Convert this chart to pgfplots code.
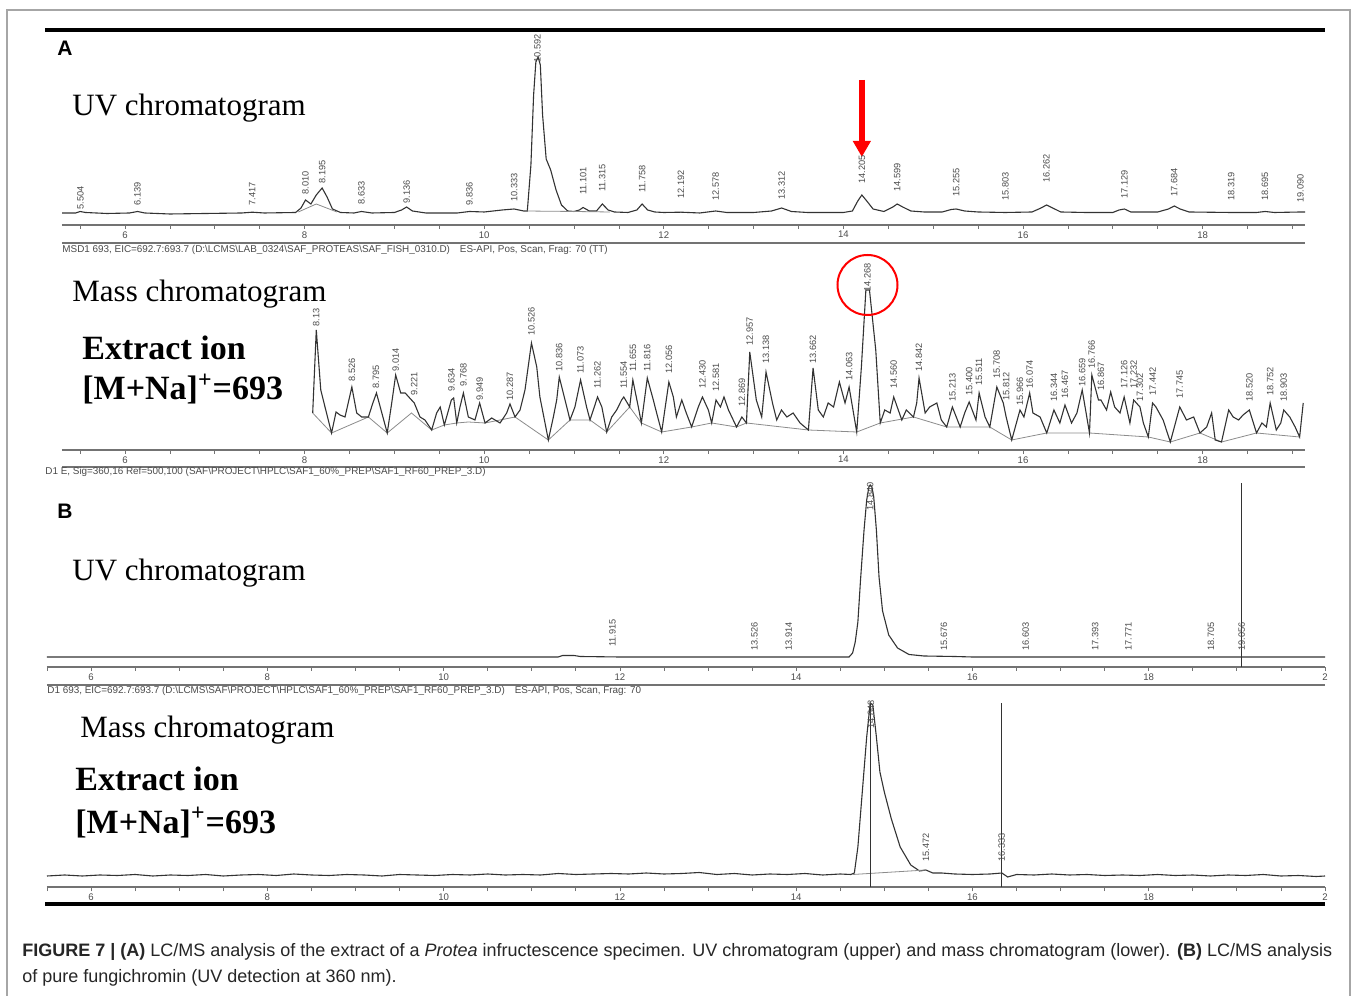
\documentclass[border=0pt]{standalone}
\usepackage{fontspec}
\setmainfont{Liberation Serif}
\newfontfamily\arial{Liberation Sans}
\usepackage{pgfplots}
\pgfplotsset{compat=1.18}
\usetikzlibrary{arrows.meta}
\definecolor{trace}{gray}{0.2}
\definecolor{lblgray}{gray}{0.3}
\definecolor{axgray}{gray}{0.45}
\definecolor{basegray}{gray}{0.55}
\newcommand{\lbl}{\arial\fontsize{4.6}{5}\selectfont}
\newcommand{\tickf}{\arial\fontsize{4.8}{5}\selectfont}
\newcommand{\hdr}{\arial\fontsize{4.95}{5.5}\selectfont}
\newcommand{\capf}{\arial\fontsize{9.0}{10}\selectfont}
\pgfplotsset{
  chrom/.style={
    scale only axis, clip=false,
    axis x line*=bottom, axis y line=none,
    ymin=0, ytick=\empty,
    x axis line style={axgray, line width=0.8pt},
    tick align=outside,
    major tick length=2pt, minor tick length=2pt,
    every tick/.style={axgray, line width=0.4pt},
    xticklabel style={font=\tickf, text=lblgray, inner sep=1pt},
    /pgf/number format/assume math mode=true,
  },
  pklabel/.style={draw=none, mark=none, nodes near coords, point meta=explicit symbolic,
    every node near coord/.append style={rotate=90, anchor=west, font=\lbl, text=lblgray, inner sep=0.5pt}},
  trc/.style={trace, line width=0.55pt, mark=none},
  bas/.style={basegray, line width=0.4pt, mark=none},
}
\begin{document}
\begin{tikzpicture}
\useasboundingbox (0,0) rectangle (679pt,497.5pt);
\fill[white] (0,0) rectangle (679pt,497.5pt);

% ---------------- A: UV chromatogram ----------------
\begin{axis}[chrom, at={(31pt,385pt)}, anchor=south west,
  width=621.5pt, height=95pt, xmin=5.2984, xmax=19.14, ymax=190,
  xtick={6,8,...,18}, minor xtick={5.5,6,...,19}]
\addplot[trc] table[row sep=\\]{
t h\\
5.30 12\\ 5.45 12\\ 5.50 13.5\\ 5.56 12.5\\ 5.80 11.5\\ 6.05 12\\ 6.14 13.5\\ 6.22 12\\
6.50 11\\ 6.90 11.5\\ 7.30 12\\ 7.417 12.8\\ 7.55 12\\ 7.90 12.5\\ 7.96 17\\ 8.01 25\\
8.07 21\\ 8.13 30\\ 8.195 37\\ 8.25 28\\ 8.31 16\\ 8.40 12.5\\ 8.55 12\\ 8.633 13.5\\
8.75 12\\ 9.00 12.5\\ 9.08 15\\ 9.136 18\\ 9.20 14\\ 9.35 12\\ 9.70 12\\ 9.836 13.5\\
10.00 13\\ 10.20 15\\ 10.333 16\\ 10.44 14\\ 10.48 14\\ 10.52 60\\ 10.55 130\\ 10.575 163\\
10.60 168\\ 10.625 160\\ 10.65 110\\ 10.69 66\\ 10.74 55\\ 10.80 35\\ 10.86 20\\ 10.93 14\\
11.00 13.5\\ 11.06 15\\ 11.101 17.5\\ 11.17 14\\ 11.25 14\\ 11.315 21\\ 11.38 15\\ 11.45 13\\
11.60 12.5\\ 11.70 15\\ 11.758 21\\ 11.82 15\\ 11.90 13\\ 12.00 12.5\\ 12.192 12.8\\ 12.40 12\\
12.578 14\\ 12.70 12.5\\ 13.00 12.5\\ 13.20 14\\ 13.312 17\\ 13.42 13.5\\ 13.60 12.5\\ 14.00 12.5\\
14.10 14\\ 14.16 24\\ 14.205 30\\ 14.26 24\\ 14.33 16\\ 14.45 13.5\\ 14.55 18\\ 14.599 21\\
14.66 18\\ 14.75 14\\ 14.90 13\\ 15.10 13\\ 15.20 15.5\\ 15.255 16\\ 15.35 14\\ 15.50 13\\
15.803 12.5\\ 16.10 13\\ 16.20 17\\ 16.262 20\\ 16.33 17\\ 16.42 13\\ 16.70 12.5\\ 17.00 12.5\\
17.07 15\\ 17.129 16\\ 17.20 13\\ 17.50 13\\ 17.62 16\\ 17.684 19\\ 17.75 16\\ 17.85 13\\
18.319 12.5\\ 18.60 12.5\\ 18.695 13.5\\ 18.80 12.5\\ 19.09 13\\ 19.14 13\\
};
\addplot[bas] table[row sep=\\]{t h\\ 7.93 13\\ 8.13 21\\ 8.36 13\\};
\addplot[bas] table[row sep=\\]{t h\\ 10.45 14\\ 11.00 13.5\\ 11.40 13\\};
\addplot[pklabel] table[row sep=\\, meta=lab]{
t h lab\\
5.504 14 5.504\\ 6.139 18 6.139\\ 7.417 18 7.417\\ 8.010 29 8.010\\ 8.195 40 8.195\\
8.633 19 8.633\\ 9.136 20 9.136\\ 9.836 18 9.836\\ 10.333 22 10.333\\ 10.592 161 10.592\\
11.101 29 11.101\\ 11.315 32 11.315\\ 11.758 31 11.758\\ 12.192 25 12.192\\ 12.578 23 12.578\\
13.312 24 13.312\\ 14.205 40 14.205\\ 14.599 32 14.599\\ 15.255 27 15.255\\ 15.803 23 15.803\\
16.262 41 16.262\\ 17.129 25 17.129\\ 17.684 27 17.684\\ 18.319 23 18.319\\ 18.695 23 18.695\\
19.090 21 19.090\\
};
\draw[red, line width=3pt, -{Triangle[width=8.5pt,length=8pt]}] (axis cs:14.205,145) -- (axis cs:14.205,68);
\end{axis}

% ---------------- A: Mass chromatogram ----------------
\begin{axis}[chrom, at={(31pt,272.5pt)}, anchor=south west,
  width=621.5pt, height=97.5pt, xmin=5.2984, xmax=19.14, ymax=195,
  xtick={6,8,...,18}, minor xtick={5.5,6,...,19}]
\addplot[bas] table[row sep=\\]{
t h\\
8.09 37\\ 8.30 17\\ 8.71 33\\ 8.92 17\\ 9.19 37\\ 9.415 20\\ 9.556 25\\ 9.694 27\\ 9.823 28\\
10.009 27\\ 10.343 33\\ 10.714 10\\ 10.955 30\\ 11.178 30\\ 11.364 18\\ 11.62 43\\ 11.75 27\\
11.976 18\\ 12.31 23\\ 12.533 27\\ 12.81 23\\ 12.92 27\\ 13.61 20\\ 14.148 18\\ 14.41 27\\
14.78 33\\ 15.15 23\\ 15.63 23\\ 15.874 10\\ 16.264 17\\ 16.74 17\\ 17.395 13\\ 17.64 8\\
17.97 17\\ 18.21 8\\ 18.60 17\\ 19.08 13\\
};
\addplot[trc] table[row sep=\\]{
t h\\
8.09 37\\ 8.13 120\\ 8.18 60\\ 8.227 43\\ 8.30 17\\ 8.35 38\\ 8.394 35\\ 8.45 33\\ 8.526 63\\
8.58 37\\ 8.636 33\\ 8.71 33\\ 8.76 47\\ 8.80 57\\ 8.86 37\\ 8.92 17\\ 8.97 47\\ 9.014 75\\
9.07 57\\ 9.12 57\\ 9.16 53\\ 9.221 47\\ 9.285 33\\ 9.34 30\\ 9.415 20\\ 9.47 37\\ 9.51 43\\
9.556 25\\ 9.634 50\\ 9.66 52\\ 9.694 27\\ 9.73 43\\ 9.768 57\\ 9.823 33\\ 9.897 30\\ 9.949 47\\
10.009 27\\ 10.083 32\\ 10.176 27\\ 10.25 37\\ 10.287 46\\ 10.343 33\\ 10.399 40\\ 10.454 60\\
10.526 107\\ 10.585 83\\ 10.62 53\\ 10.677 27\\ 10.714 10\\ 10.77 33\\ 10.807 50\\ 10.836 73\\
10.90 50\\ 10.955 30\\ 11.01 43\\ 11.073 70\\ 11.14 43\\ 11.178 30\\ 11.262 53\\ 11.31 43\\
11.364 18\\ 11.42 33\\ 11.475 40\\ 11.53 50\\ 11.554 53\\ 11.62 43\\ 11.655 70\\ 11.716 43\\
11.75 27\\ 11.816 72\\ 11.883 50\\ 11.92 37\\ 11.976 18\\ 12.056 68\\ 12.106 53\\ 12.14 33\\
12.20 50\\ 12.25 37\\ 12.31 23\\ 12.384 43\\ 12.430 53\\ 12.496 40\\ 12.533 27\\ 12.581 50\\
12.63 43\\ 12.67 53\\ 12.72 40\\ 12.81 23\\ 12.869 33\\ 12.92 27\\ 12.957 98\\ 13.03 50\\
13.09 33\\ 13.138 78\\ 13.21 47\\ 13.257 30\\ 13.31 40\\ 13.37 33\\ 13.44 37\\ 13.517 27\\
13.61 20\\ 13.662 82\\ 13.72 40\\ 13.776 33\\ 13.83 47\\ 13.89 43\\ 13.955 68\\ 14.018 47\\
14.063 63\\ 14.148 18\\ 14.20 83\\ 14.25 160\\ 14.29 160\\ 14.36 100\\ 14.41 27\\ 14.46 40\\
14.52 37\\ 14.560 53\\ 14.65 30\\ 14.70 40\\ 14.78 33\\ 14.816 47\\ 14.842 72\\ 14.91 37\\
14.96 43\\ 15.04 47\\ 15.09 30\\ 15.15 23\\ 15.213 43\\ 15.30 23\\ 15.35 37\\ 15.400 48\\
15.476 30\\ 15.511 57\\ 15.577 33\\ 15.63 23\\ 15.708 63\\ 15.78 47\\ 15.812 33\\ 15.874 10\\
15.966 40\\ 16.01 33\\ 16.074 57\\ 16.11 37\\ 16.19 33\\ 16.264 17\\ 16.344 40\\ 16.41 27\\
16.467 45\\ 16.54 27\\ 16.60 37\\ 16.659 60\\ 16.74 17\\ 16.766 75\\ 16.84 50\\ 16.867 50\\
16.93 40\\ 16.976 58\\ 17.02 43\\ 17.08 37\\ 17.126 53\\ 17.19 27\\ 17.232 50\\ 17.302 43\\
17.34 27\\ 17.395 13\\ 17.442 47\\ 17.48 43\\ 17.56 30\\ 17.64 8\\ 17.745 43\\ 17.82 30\\
17.90 33\\ 17.97 17\\ 18.045 23\\ 18.10 37\\ 18.14 10\\ 18.21 8\\ 18.29 40\\ 18.34 33\\
18.40 30\\ 18.45 35\\ 18.520 40\\ 18.60 17\\ 18.66 27\\ 18.71 23\\ 18.752 47\\ 18.82 20\\
18.87 27\\ 18.903 40\\ 18.97 33\\ 19.03 23\\ 19.08 13\\ 19.12 47\\
};
\addplot[pklabel] table[row sep=\\, meta=lab]{
t h lab\\
8.13 122 8.13\\ 8.526 67 8.526\\ 8.795 60 8.795\\ 9.014 77 9.014\\ 9.221 53 9.221\\
9.634 57 9.634\\ 9.768 62 9.768\\ 9.949 48 9.949\\ 10.287 48 10.287\\ 10.526 113 10.526\\
10.836 77 10.836\\ 11.073 75 11.073\\ 11.262 60 11.262\\ 11.554 60 11.554\\ 11.655 77 11.655\\
11.816 77 11.816\\ 12.056 75 12.056\\ 12.430 60 12.430\\ 12.581 57 12.581\\ 12.869 42 12.869\\
12.957 103 12.957\\ 13.138 85 13.138\\ 13.662 85 13.662\\ 14.063 68 14.063\\ 14.268 157 14.268\\
14.560 60 14.560\\ 14.842 77 14.842\\ 15.213 47 15.213\\ 15.400 53 15.400\\ 15.511 63 15.511\\
15.708 70 15.708\\ 15.812 48 15.812\\ 15.966 43 15.966\\ 16.074 60 16.074\\ 16.344 47 16.344\\
16.467 50 16.467\\ 16.659 62 16.659\\ 16.766 80 16.766\\ 16.867 58 16.867\\ 17.126 60 17.126\\
17.232 60 17.232\\ 17.302 47 17.302\\ 17.442 53 17.442\\ 17.745 50 17.745\\ 18.520 47 18.520\\
18.752 53 18.752\\ 18.903 47 18.903\\
};
\draw[red, line width=1pt] (axis cs:14.268,165) circle[radius=15pt];
\end{axis}

% ---------------- B: UV chromatogram ----------------
\begin{axis}[chrom, at={(23.5pt,164pt)}, anchor=south west,
  width=639pt, height=93.5pt, xmin=5.5, xmax=20, ymax=187,
  xtick={6,8,...,20}, xticklabels={6,8,10,12,14,16,18,2}, minor xtick={5.5,6,...,20}]
\addplot[trc] table[row sep=\\]{
t h\\
5.50 10\\ 11.30 10\\ 11.35 11.5\\ 11.48 11.5\\ 11.55 10.5\\ 12.00 10\\ 13.526 10\\ 14.60 10\\
14.64 14\\ 14.67 25\\ 14.70 45\\ 14.73 87\\ 14.77 137\\ 14.80 167\\ 14.825 180\\ 14.84 182\\
14.86 180\\ 14.88 170\\ 14.91 137\\ 14.94 90\\ 14.98 56\\ 15.05 32\\ 15.15 19\\ 15.28 12.5\\
15.45 11\\ 15.80 10.5\\ 16.00 10\\ 20.00 10\\
};
\addplot[trc] coordinates {(19.056,0) (19.056,184)};
\addplot[pklabel] table[row sep=\\, meta=lab]{
t h lab\\
11.915 19 11.915\\ 13.526 15 13.526\\ 13.914 15 13.914\\ 14.840 155 14.840\\ 15.676 15 15.676\\
16.603 15 16.603\\ 17.393 15 17.393\\ 17.771 15 17.771\\ 18.705 15 18.705\\ 19.056 15 19.056\\
};
\end{axis}

% ---------------- B: Mass chromatogram ----------------
\begin{axis}[chrom, at={(23.5pt,54pt)}, anchor=south west,
  width=639pt, height=93.5pt, xmin=5.5, xmax=20, ymax=187,
  xtick={6,8,...,20}, xticklabels={6,8,10,12,14,16,18,2}, minor xtick={5.5,6,...,20}]
\addplot[trc] table[row sep=\\]{
t h\\
5.5 11\\ 5.7 12\\ 5.9 11\\ 6.1 12\\ 6.3 11.5\\ 6.5 12.5\\ 6.7 11\\ 6.9 12\\ 7.1 11.5\\ 7.3 12.5\\
7.5 11\\ 7.7 12\\ 7.9 12.5\\ 8.1 11.5\\ 8.3 13\\ 8.5 12\\ 8.7 11.5\\ 8.9 12.5\\ 9.1 12\\ 9.3 11\\
9.5 12.5\\ 9.7 12\\ 9.9 11.5\\ 10.1 12.5\\ 10.3 12\\ 10.5 13\\ 10.7 12\\ 10.9 12.5\\ 11.1 12\\
11.3 13.5\\ 11.5 12.5\\ 11.7 13\\ 11.9 13.5\\ 12.1 13\\ 12.3 14\\ 12.5 13\\ 12.7 13.5\\ 12.9 14.5\\
13.1 12.5\\ 13.3 13.5\\ 13.5 12\\ 13.7 13\\ 13.9 12.5\\ 14.1 13.5\\ 14.3 12\\ 14.5 13\\ 14.62 12.5\\
14.66 14\\ 14.70 40\\ 14.75 95\\ 14.80 150\\ 14.84 184\\ 14.87 182\\ 14.91 150\\ 14.95 115\\
15.00 95\\ 15.08 68\\ 15.18 40\\ 15.30 22\\ 15.40 16\\ 15.472 17\\ 15.55 14\\ 15.65 14\\ 15.8 13\\
16.0 12.5\\ 16.2 13\\ 16.333 14\\ 16.4 10\\ 16.5 12.5\\ 16.7 12\\ 16.9 13\\ 17.1 12\\ 17.3 12.5\\
17.5 11.5\\ 17.7 12\\ 17.9 11.5\\ 18.1 12.5\\ 18.3 11.5\\ 18.5 12\\ 18.7 11\\ 18.9 12\\ 19.1 11.5\\
19.3 12.5\\ 19.5 11\\ 19.7 11.5\\ 19.9 10.5\\ 20.0 11\\
};
\addplot[bas] table[row sep=\\]{t h\\ 14.64 12.5\\ 15.472 17\\};
\addplot[trc] coordinates {(14.848,0) (14.848,184)};
\addplot[trc] coordinates {(16.333,0) (16.333,184)};
\addplot[pklabel] table[row sep=\\, meta=lab]{
t h lab\\
14.848 157 14.848\\ 15.472 24 15.472\\ 16.333 24 16.333\\
};
\end{axis}

% ---------------- decorations and texts (pixel coordinates) ----------------
\begin{scope}[x=0.5pt,y=-0.5pt,shift={(0,-995)}]
\draw[gray!70, line width=0.6pt] (7,1000) -- (7,10) -- (1350,10) -- (1350,1000);
\draw[black, line width=2pt] (45,30) -- (1325,30);
\draw[black, line width=2pt] (45,904) -- (1325,904);
\draw[axgray, line width=0.7pt] (62,243) -- (1305,243);
\draw[axgray, line width=0.7pt] (62,467) -- (1305,467);
\draw[axgray, line width=0.7pt] (47,685) -- (1325,685);

\node[anchor=base west, inner sep=0pt, font=\arial\bfseries\fontsize{10.5}{12}\selectfont] at (57,56) {A};
\node[anchor=base west, inner sep=0pt, font=\arial\bfseries\fontsize{10.5}{12}\selectfont] at (57,519) {B};

\node[anchor=base west, inner sep=0pt, font=\fontsize{15.5}{18}\selectfont] at (72,116) {UV chromatogram};
\node[anchor=base west, inner sep=0pt, font=\fontsize{15.5}{18}\selectfont] at (72,302) {Mass chromatogram};
\node[anchor=base west, inner sep=0pt, font=\bfseries\fontsize{17}{20}\selectfont] at (82,360) {Extract ion};
\node[anchor=base west, inner sep=0pt, font=\bfseries\fontsize{17}{20}\selectfont] at (82,400) {[M+Na]\textsuperscript{+}=693};

\node[anchor=base west, inner sep=0pt, font=\fontsize{15.5}{18}\selectfont] at (72,581) {UV chromatogram};
\node[anchor=base west, inner sep=0pt, font=\fontsize{15.5}{18}\selectfont] at (80,738) {Mass chromatogram};
\node[anchor=base west, inner sep=0pt, font=\bfseries\fontsize{17}{20}\selectfont] at (75,791) {Extract ion};
\node[anchor=base west, inner sep=0pt, font=\bfseries\fontsize{17}{20}\selectfont] at (75,833) {[M+Na]\textsuperscript{+}=693};

\node[anchor=base west, inner sep=0pt, font=\hdr, text=lblgray] at (62,253) {MSD1 693, EIC=692.7:693.7 (D:\textbackslash LCMS\textbackslash LAB\_0324\textbackslash SAF\_PROTEAS\textbackslash SAF\_FISH\_0310.D)\quad ES-API, Pos, Scan, Frag: 70 (TT)};
\node[anchor=base west, inner sep=0pt, font=\hdr, text=lblgray] at (45,475) {D1 E, Sig=360,16 Ref=500,100 (SAF\textbackslash PROJECT\textbackslash HPLC\textbackslash SAF1\_60\%\_PREP\textbackslash SAF1\_RF60\_PREP\_3.D)};
\node[anchor=base west, inner sep=0pt, font=\hdr, text=lblgray] at (47,694) {D1 693, EIC=692.7:693.7 (D:\textbackslash LCMS\textbackslash SAF\textbackslash PROJECT\textbackslash HPLC\textbackslash SAF1\_60\%\_PREP\textbackslash SAF1\_RF60\_PREP\_3.D)\quad ES-API, Pos, Scan, Frag: 70};

\node[anchor=base west, inner sep=0pt, font=\capf, text=black!85] at (22,956) {\textbf{FIGURE 7 | (A)} LC/MS analysis of the extract of a \textit{Protea} infructescence specimen. UV chromatogram (upper) and mass chromatogram (lower). \textbf{(B)} LC/MS analysis};
\node[anchor=base west, inner sep=0pt, font=\capf, text=black!85] at (22,982) {of pure fungichromin (UV detection at 360 nm).};
\end{scope}
\end{tikzpicture}
\end{document}
